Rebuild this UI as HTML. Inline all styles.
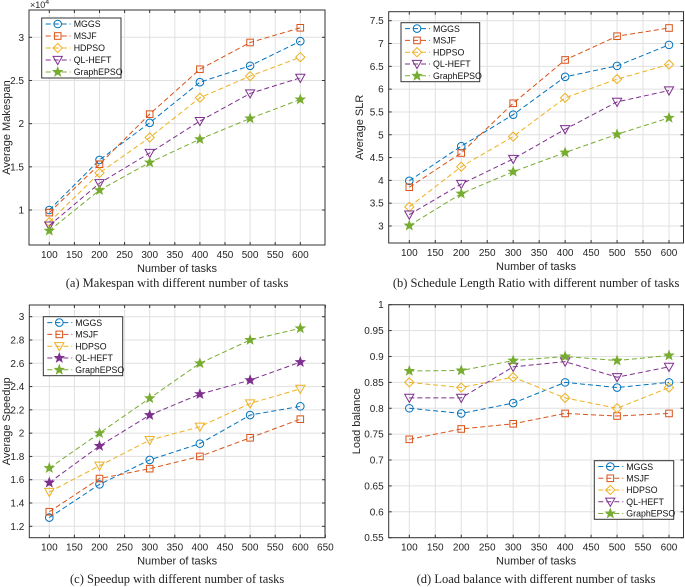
<!DOCTYPE html>
<html><head><meta charset="utf-8">
<style>
html,body{margin:0;padding:0;background:#fff;}
svg{display:block;font-family:"Liberation Sans",Arial,sans-serif;}
.cap{font-family:"Liberation Serif",serif;font-size:12.5px;fill:#222;}
</style></head>
<body>
<svg id="fig" width="685" height="587" viewBox="0 0 685 587" xmlns="http://www.w3.org/2000/svg"></svg>
<script>
const seriesNames = ["MGGS","MSJF","HDPSO","QL-HEFT","GraphEPSO"];
const taskCounts = [100,200,300,400,500,600];

const makespanMGGS = [1.0,1.58,2.01,2.48,2.67,2.955];
const makespanMSJF = [0.97,1.53,2.11,2.63,2.94,3.11];
const makespanHDPSO = [0.86,1.43,1.84,2.30,2.55,2.77];
const makespanQL = [0.82,1.31,1.66,2.03,2.35,2.53];
const makespanGraph = [0.76,1.23,1.55,1.82,2.06,2.28];
const makespanTicks = ["1","1.5","2","2.5","3"];

const slrMGGS = [3.99,4.75,5.44,6.27,6.51,6.97];
const slrMSJF = [3.85,4.6,5.69,6.64,7.16,7.34];
const slrHDPSO = [3.42,4.30,4.96,5.81,6.22,6.54];
const slrQL = [3.25,3.92,4.47,5.12,5.72,5.97];
const slrGraph = [3.01,3.71,4.19,4.61,5.01,5.37];
const slrTicks = ["3","3.5","4","4.5","5","5.5","6","6.5","7","7.5"];

const speedMGGS = [1.275,1.56,1.77,1.91,2.155,2.23];
const speedMSJF = [1.325,1.61,1.695,1.80,1.96,2.12];
const speedHDPSO = [1.495,1.72,1.94,2.055,2.255,2.38];
const speedQL = [1.575,1.89,2.155,2.335,2.455,2.61];
const speedGraph = [1.70,2.00,2.30,2.60,2.80,2.90];
const speedTicks = ["1.2","1.4","1.6","1.8","2","2.2","2.4","2.6","2.8","3"];

const loadMGGS = [0.80,0.79,0.81,0.85,0.84,0.85];
const loadMSJF = [0.74,0.76,0.77,0.79,0.785,0.79];
const loadHDPSO = [0.85,0.84,0.86,0.82,0.80,0.84];
const loadQL = [0.82,0.82,0.88,0.89,0.86,0.88];
const loadGraph = [0.872,0.873,0.892,0.90,0.892,0.902];
const loadTicks = ["0.55","0.6","0.65","0.7","0.75","0.8","0.85","0.9","0.95","1"];

const xTicksA = ["100","150","200","250","300","350","400","450","500","550","600"];
const xTicksC = ["100","150","200","250","300","350","400","450","500","550","600","650"];

const colors = ["#0072BD","#D95319","#EDB120","#7E2F8E","#77AC30"];
const NS = "http://www.w3.org/2000/svg";
const svg = document.getElementById("fig");

function el(tag, attrs, parent){
  const e = document.createElementNS(NS, tag);
  for (const k in attrs) e.setAttribute(k, attrs[k]);
  (parent||svg).appendChild(e);
  return e;
}

function starPts(cx,cy,r){
  let p=[];
  for(let i=0;i<10;i++){
    const a=-Math.PI/2+i*Math.PI/5, rr=i%2?r*0.42:r;
    p.push((cx+rr*Math.cos(a)).toFixed(2)+","+(cy+rr*Math.sin(a)).toFixed(2));
  }
  return p.join(" ");
}
function marker(g,type,x,y,c){
  let m;
  if(type==="o") m=el("circle",{cx:x,cy:y,r:3.8,fill:"none",stroke:c,"stroke-width":1},g);
  else if(type==="s") m=el("rect",{x:x-3.3,y:y-3.3,width:6.6,height:6.6,fill:"none",stroke:c,"stroke-width":1},g);
  else if(type==="d") m=el("polygon",{points:`${x},${y-4.6} ${x+4.6},${y} ${x},${y+4.6} ${x-4.6},${y}`,fill:"none",stroke:c,"stroke-width":1},g);
  else if(type==="v") m=el("polygon",{points:`${x-4.6},${y-3.6} ${x+4.6},${y-3.6} ${x},${y+4.6}`,fill:"none",stroke:c,"stroke-width":1},g);
  else m=el("polygon",{points:starPts(x,y,5.2),fill:c,stroke:c,"stroke-width":0.6},g);
  
  
}

function panel(cfg){
  const g = el("g",{});
  
  
  const xs = v => cfg.px0 + (v-100)/500*(cfg.px1-cfg.px0);
  const ys = v => cfg.py0 + (v-cfg.v0)/(cfg.v1-cfg.v0)*(cfg.py1-cfg.py0);
  const B = cfg.box;
  el("rect",{x:B[0],y:B[1],width:B[2]-B[0],height:B[3]-B[1],fill:"#fff"},g);
  cfg.xt.forEach(t=>{
    const x=xs(+t);
    el("line",{x1:x,x2:x,y1:B[1],y2:B[3],stroke:"#e0e0e0","stroke-width":1},g);
  });
  cfg.yt.forEach(t=>{
    const y=ys(+t);
    el("line",{x1:B[0],x2:B[2],y1:y,y2:y,stroke:"#e0e0e0","stroke-width":1},g);
  });
  const frame = el("rect",{x:B[0],y:B[1],width:B[2]-B[0],height:B[3]-B[1],fill:"none",stroke:"#333","stroke-width":1},g);
  
  
  cfg.xt.forEach(t=>{
    const x=xs(+t);
    el("line",{x1:x,x2:x,y1:B[3],y2:B[3]-3,stroke:"#333"},g);
    el("line",{x1:x,x2:x,y1:B[1],y2:B[1]+3,stroke:"#333"},g);
    const tx=el("text",{x:x,y:B[3]+13,"font-size":"10","text-anchor":"middle",fill:"#262626"},g);
    tx.textContent=t;
    
    
  });
  cfg.yt.forEach(t=>{
    const y=ys(+t);
    el("line",{x1:B[0],x2:B[0]+3,y1:y,y2:y,stroke:"#333"},g);
    el("line",{x1:B[2],x2:B[2]-3,y1:y,y2:y,stroke:"#333"},g);
    const tx=el("text",{x:B[0]-5,y:y+3.5,"font-size":"10","text-anchor":"end",fill:"#262626"},g);
    tx.textContent=t;
    
    
  });
  cfg.series.forEach((d,i)=>{
    const sg=el("g",{},g);
    
    
    const pts=d.map((v,j)=>xs(taskCounts[j]).toFixed(2)+","+ys(v).toFixed(2)).join(" ");
    el("polyline",{points:pts,fill:"none",stroke:colors[i],"stroke-width":1,"stroke-dasharray":"5,3"},sg);
    d.forEach((v,j)=>marker(sg,cfg.markers[i],xs(taskCounts[j]),ys(v),colors[i]));
  });
  const L=cfg.legend;
  const lg=el("g",{},g);
  
  
  el("rect",{x:L[0],y:L[1],width:L[2]-L[0],height:L[3]-L[1],fill:"#fff",stroke:"#333","stroke-width":1},lg);
  const rowH=(L[3]-L[1])/5;
  seriesNames.forEach((n,i)=>{
    const y=L[1]+rowH*(i+0.5);
    const eg=el("g",{},lg);
    
    
    el("line",{x1:L[0]+4,x2:L[0]+29,y1:y,y2:y,stroke:colors[i],"stroke-width":1,"stroke-dasharray":"5,3"},eg);
    marker(eg,cfg.markers[i],L[0]+16,y,colors[i]);
    const t=el("text",{x:L[0]+32,y:y+3.2,"font-size":"8.8",fill:"#111"},eg);
    t.textContent=n;
  });
  const xl=el("text",{x:(B[0]+B[2])/2,y:B[3]+27,"font-size":"11","text-anchor":"middle",fill:"#262626"},g);
  xl.textContent="Number of tasks";
  
  
  const yl=el("text",{x:0,y:0,"font-size":"11","text-anchor":"middle",fill:"#262626",transform:`translate(${cfg.ylx},${(B[1]+B[3])/2}) rotate(-90)`},g);
  yl.textContent=cfg.ylabel;
  
  
  const cp=el("text",{x:(B[0]+B[2])/2,y:cfg.capY,"text-anchor":"middle",class:"cap"},g);
  cp.textContent=cfg.caption;
  
  
  if(cfg.exp){
    const ex=el("text",{x:B[0]+1,y:B[1]-2,"font-size":"9",fill:"#262626"},g);
    ex.innerHTML='×10<tspan dy="-4" font-size="7">4</tspan>';
    
    
  }
}

panel({name:"makespan-chart",box:[29,10,325,245],px0:49.3,px1:300.3,v0:1,v1:3,py0:210,py1:37.3,
  xt:xTicksA,yt:makespanTicks,series:[makespanMGGS,makespanMSJF,makespanHDPSO,makespanQL,makespanGraph],
  markers:["o","s","d","v","*"],legend:[41.7,18,121,78],ylabel:"Average Makespan",ylx:10,
  caption:"(a) Makespan with different number of tasks",capY:287,exp:true});
panel({name:"slr-chart",box:[388.7,11.7,683.5,243],px0:409.3,px1:669,v0:3,v1:7.5,py0:226,py1:20.7,
  xt:xTicksA,yt:slrTicks,series:[slrMGGS,slrMSJF,slrHDPSO,slrQL,slrGraph],
  markers:["o","s","d","v","*"],legend:[401,22.7,479.7,81.7],ylabel:"Average SLR",ylx:363,
  caption:"(b) Schedule Length Ratio with different number of tasks",capY:287});
panel({name:"speedup-chart",box:[29.3,305,325,537.7],px0:49.3,px1:300.3,v0:1.2,v1:3,py0:526.3,py1:316.7,
  xt:xTicksC,yt:speedTicks,series:[speedMGGS,speedMSJF,speedHDPSO,speedQL,speedGraph],
  markers:["o","s","v","*","*"],legend:[43.3,316.7,122.7,375.7],ylabel:"Average Speedup",ylx:10,
  caption:"(c) Speedup with different number of tasks",capY:583});
panel({name:"load-balance-chart",box:[388.7,304.7,683.5,537.7],px0:409.3,px1:669,v0:0.55,v1:1,py0:537.7,py1:304.7,
  xt:xTicksA,yt:loadTicks,series:[loadMGGS,loadMSJF,loadHDPSO,loadQL,loadGraph],
  markers:["o","s","d","v","*"],legend:[594.3,460.7,673.7,519.3],ylabel:"Load balance",ylx:360,
  caption:"(d) Load balance with different number of tasks",capY:583});
</script>
</body></html>
